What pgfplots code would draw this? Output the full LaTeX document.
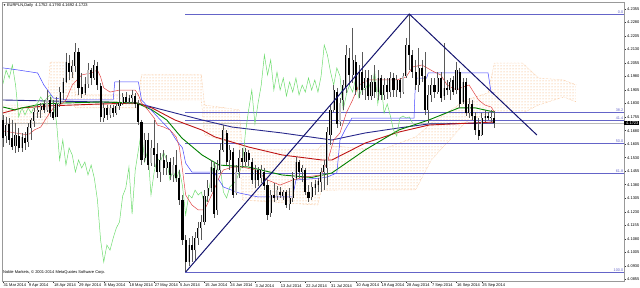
\documentclass[border=0pt]{standalone}
\usepackage{fontspec}
\setmainfont{Liberation Sans}
\usepackage{pgfplots}
\pgfplotsset{compat=1.18}
\usepackage{pgfplotstable}
\usepgfplotslibrary{fillbetween}
\usetikzlibrary{patterns}
\definecolor{fibc}{RGB}{100,100,200}
\definecolor{navyc}{RGB}{20,20,110}
\definecolor{magreen}{RGB}{0,128,0}
\definecolor{mared}{RGB}{190,20,20}
\definecolor{manavy}{RGB}{40,40,140}
\definecolor{tenkanc}{RGB}{225,70,70}
\definecolor{kijunc}{RGB}{70,70,255}
\definecolor{chikouc}{RGB}{110,220,110}
\definecolor{kumoc}{RGB}{244,164,96}
\definecolor{bullc}{RGB}{192,192,192}
\pgfplotstableread{
i O H L C
0 4.1739 4.1767 4.1589 4.1639
1 4.1650 4.1756 4.1611 4.1711
2 4.1717 4.1750 4.1600 4.1628
3 4.1639 4.1739 4.1572 4.1589
4 4.1595 4.1722 4.1556 4.1656
5 4.1650 4.1695 4.1561 4.1584
6 4.1584 4.1667 4.1561 4.1645
7 4.1639 4.1672 4.1572 4.1611
8 4.1617 4.1722 4.1589 4.1700
9 4.1695 4.1750 4.1628 4.1739
10 4.1733 4.1806 4.1700 4.1783
11 4.1783 4.1822 4.1750 4.1794
12 4.1794 4.1833 4.1750 4.1817
13 4.1828 4.1850 4.1778 4.1794
14 4.1794 4.1905 4.1783 4.1850
15 4.1850 4.1867 4.1756 4.1778
16 4.1783 4.1850 4.1739 4.1750
17 4.1756 4.1867 4.1756 4.1828
18 4.1828 4.1922 4.1811 4.1894
19 4.1889 4.1972 4.1850 4.1950
20 4.1950 4.2111 4.1944 4.2061
21 4.2055 4.2100 4.1961 4.2005
22 4.2005 4.2072 4.1972 4.2039
23 4.2039 4.2166 4.2005 4.2116
24 4.2116 4.2139 4.1878 4.1917
25 4.1922 4.2000 4.1861 4.1883
26 4.1889 4.1978 4.1878 4.1939
27 4.1939 4.2055 4.1917 4.2016
28 4.2016 4.2028 4.1933 4.1972
29 4.1972 4.2072 4.1961 4.2044
30 4.2039 4.2061 4.1905 4.1933
31 4.1928 4.1944 4.1728 4.1756
32 4.1750 4.1833 4.1728 4.1806
33 4.1806 4.1822 4.1739 4.1767
34 4.1767 4.1822 4.1750 4.1806
35 4.1806 4.1822 4.1756 4.1778
36 4.1778 4.1833 4.1767 4.1817
37 4.1817 4.1961 4.1795 4.1833
38 4.1833 4.1889 4.1822 4.1867
39 4.1867 4.1894 4.1828 4.1839
40 4.1839 4.1878 4.1828 4.1861
41 4.1861 4.1905 4.1833 4.1878
42 4.1872 4.1889 4.1806 4.1828
43 4.1828 4.1850 4.1711 4.1728
44 4.1728 4.1739 4.1489 4.1517
45 4.1528 4.1667 4.1506 4.1628
46 4.1628 4.1667 4.1462 4.1489
47 4.1500 4.1628 4.1484 4.1584
48 4.1584 4.1739 4.1478 4.1545
49 4.1550 4.1611 4.1417 4.1450
50 4.1450 4.1556 4.1395 4.1517
51 4.1517 4.1572 4.1434 4.1473
52 4.1473 4.1545 4.1434 4.1506
53 4.1506 4.1528 4.1406 4.1434
54 4.1434 4.1534 4.1395 4.1489
55 4.1489 4.1572 4.1395 4.1417
56 4.1417 4.1462 4.1267 4.1295
57 4.1295 4.1323 4.1045 4.1073
58 4.1073 4.1101 4.0895 4.0951
59 4.0951 4.1084 4.0929 4.1045
60 4.1045 4.1095 4.0951 4.1017
61 4.1017 4.1117 4.0962 4.1084
62 4.1084 4.1173 4.1045 4.1140
63 4.1140 4.1212 4.1073 4.1173
64 4.1173 4.1350 4.1156 4.1317
65 4.1317 4.1406 4.1284 4.1362
66 4.1362 4.1517 4.1339 4.1478
67 4.1473 4.1506 4.1195 4.1217
68 4.1239 4.1517 4.1212 4.1461
69 4.1461 4.1611 4.1445 4.1572
70 4.1572 4.1711 4.1561 4.1683
71 4.1667 4.1683 4.1489 4.1506
72 4.1517 4.1600 4.1461 4.1572
73 4.1561 4.1584 4.1306 4.1323
74 4.1334 4.1489 4.1323 4.1450
75 4.1450 4.1572 4.1417 4.1528
76 4.1528 4.1584 4.1473 4.1506
77 4.1506 4.1584 4.1484 4.1561
78 4.1556 4.1572 4.1484 4.1517
79 4.1506 4.1528 4.1384 4.1406
80 4.1406 4.1489 4.1362 4.1461
81 4.1461 4.1478 4.1373 4.1406
82 4.1417 4.1489 4.1389 4.1461
83 4.1450 4.1473 4.1350 4.1373
84 4.1378 4.1406 4.1184 4.1212
85 4.1223 4.1350 4.1201 4.1323
86 4.1323 4.1389 4.1284 4.1306
87 4.1317 4.1373 4.1295 4.1350
88 4.1339 4.1367 4.1306 4.1323
89 4.1317 4.1350 4.1295 4.1339
90 4.1339 4.1350 4.1251 4.1267
91 4.1273 4.1362 4.1239 4.1306
92 4.1306 4.1450 4.1284 4.1417
93 4.1417 4.1534 4.1406 4.1506
94 4.1506 4.1517 4.1417 4.1450
95 4.1450 4.1489 4.1395 4.1473
96 4.1461 4.1473 4.1323 4.1339
97 4.1339 4.1378 4.1284 4.1306
98 4.1312 4.1395 4.1295 4.1367
99 4.1362 4.1406 4.1323 4.1384
100 4.1378 4.1417 4.1339 4.1400
101 4.1395 4.1473 4.1339 4.1450
102 4.1450 4.1517 4.1350 4.1489
103 4.1473 4.1700 4.1378 4.1672
104 4.1656 4.1822 4.1600 4.1795
105 4.1795 4.1933 4.1783 4.1905
106 4.1894 4.1917 4.1695 4.1717
107 4.1728 4.1861 4.1706 4.1833
108 4.1850 4.1961 4.1795 4.1933
109 4.1917 4.2155 4.1889 4.2100
110 4.2083 4.2139 4.1933 4.1989
111 4.1989 4.2250 4.1944 4.2072
112 4.2061 4.2100 4.1878 4.1905
113 4.1905 4.2044 4.1861 4.2005
114 4.2005 4.2116 4.1878 4.1905
115 4.1917 4.2016 4.1850 4.1972
116 4.1972 4.2016 4.1850 4.1872
117 4.1872 4.1989 4.1850 4.1950
118 4.1950 4.2044 4.1861 4.1894
119 4.1894 4.2016 4.1850 4.1972
120 4.1972 4.1989 4.1850 4.1878
121 4.1878 4.1972 4.1850 4.1933
122 4.1933 4.1972 4.1856 4.1894
123 4.1894 4.2005 4.1867 4.1972
124 4.1972 4.2000 4.1867 4.1905
125 4.1905 4.1989 4.1867 4.1961
126 4.1961 4.1972 4.1861 4.1894
127 4.1894 4.2000 4.1883 4.1983
128 4.1983 4.2194 4.1972 4.2155
129 4.2155 4.2322 4.2016 4.2100
130 4.2100 4.2127 4.1972 4.2005
131 4.2005 4.2072 4.1905 4.1933
132 4.1933 4.2139 4.1894 4.2028
133 4.2028 4.2072 4.1950 4.1983
134 4.1983 4.2116 4.1767 4.1794
135 4.1794 4.1933 4.1722 4.1878
136 4.1878 4.1972 4.1839 4.1933
137 4.1933 4.1972 4.1861 4.1894
138 4.1894 4.2005 4.1883 4.1972
139 4.1972 4.2005 4.1839 4.1861
140 4.1872 4.2166 4.1850 4.1917
141 4.1917 4.1961 4.1878 4.1905
142 4.1905 4.1972 4.1850 4.1950
143 4.1961 4.1983 4.1878 4.1894
144 4.1905 4.2061 4.1883 4.2016
145 4.2005 4.2028 4.1806 4.1828
146 4.1839 4.1972 4.1828 4.1950
147 4.1950 4.1972 4.1761 4.1778
148 4.1778 4.1861 4.1750 4.1828
149 4.1828 4.1850 4.1739 4.1761
150 4.1761 4.1783 4.1656 4.1683
151 4.1683 4.1750 4.1628 4.1650
152 4.1656 4.1778 4.1650 4.1750
153 4.1750 4.1795 4.1728 4.1761
154 4.1761 4.1783 4.1739 4.1750
155 4.1750 4.1795 4.1728 4.1756
156 4.1752 4.1790 4.1692 4.1723
}\candles
\pgfplotstableread{
i A B
0 4.1822 4.1711
14 4.1822 4.1711
15 4.2061 4.1850
22 4.2061 4.1850
23 4.1878 4.1806
43 4.1878 4.1806
44 4.1989 4.1850
63 4.1989 4.1850
64 4.1822 4.1656
75 4.1795 4.1600
76 4.1573 4.1295
100 4.1573 4.1267
101 4.1600 4.1350
120 4.1573 4.1351
131 4.1645 4.1351
136 4.1722 4.1517
147 4.1850 4.1728
154 4.1889 4.1778
156 4.2055 4.1778
165 4.2055 4.1778
170 4.1972 4.1822
178 4.1961 4.1867
182 4.1933 4.1839
}\kumo
\begin{document}
\begin{tikzpicture}
\begin{axis}[
  at={(2pt,7pt)}, anchor=south west,
  scale only axis, width=622pt, height=279pt,
  xmin=-0.3, xmax=197.16, ymin=4.08456, ymax=4.23938,
  axis line style={gray!80},
  ytick pos=right, xtick pos=bottom, tick align=outside,
  major tick length=2pt, tick style={black!80, line width=0.4pt},
  ytick={4.0855,4.0930,4.1005,4.1080,4.1155,4.1230,4.1305,4.1380,4.1455,4.1530,4.1605,4.1680,4.1755,4.1830,4.1905,4.1980,4.2055,4.2130,4.2205,4.2280,4.2355},
  yticklabels={4.0855,4.0930,4.1005,4.1080,4.1155,4.1230,4.1305,4.1380,4.1455,4.1530,4.1605,4.1680,4.1755,4.1830,4.1905,4.1980,4.2055,4.2130,4.2205,4.2280,4.2355},
  xtick={0,8,...,152},
  xticklabels={31 Mar 2014,9 Apr 2014,18 Apr 2014,29 Apr 2014,8 May 2014,18 May 2014,27 May 2014,5 Jun 2014,15 Jun 2014,24 Jun 2014,3 Jul 2014,13 Jul 2014,22 Jul 2014,31 Jul 2014,10 Aug 2014,19 Aug 2014,28 Aug 2014,7 Sep 2014,16 Sep 2014,25 Sep 2014},
  tick label style={font=\fontsize{4}{4.5}\selectfont, text=black},
  xticklabel style={anchor=north west, inner xsep=0.5pt, inner ysep=1pt},
  yticklabel style={anchor=west, inner xsep=1pt},
  clip=false,
]
% Ichimoku cloud
\addplot[name path=kA, kumoc, densely dotted, line width=0.4pt] table[x=i, y=A] \kumo;
\addplot[name path=kB, kumoc, densely dotted, line width=0.4pt] table[x=i, y=B] \kumo;
\addplot[pattern=dots, pattern color=kumoc, draw=none] fill between[of=kA and kB];
% bid line
\addplot[gray!55, line width=0.4pt] coordinates {(-0.3,4.1723) (197.16,4.1723)};
% Fibonacci levels
\addplot[fibc, line width=0.5pt] coordinates {(57.8,4.2327) (197.16,4.2327)};
\addplot[fibc, line width=0.5pt] coordinates {(57.8,4.1783) (197.16,4.1783)};
\addplot[fibc, line width=0.5pt] coordinates {(57.8,4.1739) (197.16,4.1739)};
\addplot[fibc, line width=0.5pt] coordinates {(57.8,4.1611) (197.16,4.1611)};
\addplot[fibc, line width=0.5pt] coordinates {(57.8,4.1445) (197.16,4.1445)};
\addplot[fibc, line width=0.5pt] coordinates {(57.8,4.0895) (197.16,4.0895)};
% moving averages
\addplot[manavy, line width=0.9pt] coordinates {(0,4.1850) (16,4.1844) (31.4,4.1839) (42.5,4.1833) (47.3,4.1811) (54.6,4.1778) (63.2,4.1739) (72.7,4.1700) (88.6,4.1667) (104.4,4.1628) (115,4.1667) (125.7,4.1695) (135.2,4.1717) (156,4.1722)};
\addplot[mared, line width=0.9pt] coordinates {(0,4.1778) (6,4.1806) (14,4.1817) (31.4,4.1828) (42.5,4.1833) (47.3,4.1806) (54.6,4.1739) (63.2,4.1683) (67.3,4.1645) (78,4.1589) (88.6,4.1545) (101.3,4.1517) (104.4,4.1517) (115,4.1611) (125.7,4.1672) (135.2,4.1711) (156,4.1728)};
\addplot[magreen, line width=0.9pt] coordinates {(0,4.1811) (3.8,4.1795) (6,4.1806) (12.4,4.1828) (18.7,4.1833) (31.4,4.1839) (42.5,4.1833) (47.3,4.1795) (52,4.1739) (56.8,4.1639) (63.2,4.1545) (68.6,4.1489) (78,4.1478) (88.6,4.1434) (98,4.1420) (104.4,4.1445) (115,4.1573) (125.7,4.1684) (135.2,4.1739) (144.7,4.1806) (150,4.1806) (156,4.1783)};
% Ichimoku lines
\addplot[chikouc, line width=0.5pt, restrict x to domain=-0.3:200] table[x expr=\thisrow{i}-26, y=C] \candles;
\addplot[kijunc, line width=0.5pt] coordinates {(0,4.2028) (5,4.2016) (11,4.2000) (13,4.1933) (16,4.1861) (21,4.1850) (35,4.1850) (35.5,4.1950) (43,4.1950) (44,4.1850) (47,4.1795) (50,4.1739) (53,4.1684) (55,4.1628) (57,4.1584) (58,4.1500) (60,4.1450) (67,4.1450) (70,4.1367) (75,4.1334) (81,4.1312) (92,4.1312) (93,4.1406) (101,4.1417) (103,4.1423) (106,4.1445) (107,4.1628) (108.6,4.1684) (110.8,4.1750) (130.5,4.1750) (131,4.1972) (134.5,4.1972) (135,4.2000) (154,4.2000) (155,4.1889) (156,4.1889)};
\addplot[tenkanc, line width=0.5pt] coordinates {(0,4.1678) (8,4.1656) (10,4.1684) (12,4.1700) (14,4.1756) (16,4.1806) (19,4.1833) (20,4.1850) (22,4.1933) (25,4.1989) (28,4.2000) (30,4.2016) (31,4.1978) (32,4.1917) (34,4.1894) (37,4.1905) (42,4.1905) (43,4.1878) (44,4.1833) (46,4.1795) (48,4.1750) (49,4.1711) (51,4.1700) (53,4.1684) (55,4.1645) (56,4.1589) (57,4.1462) (58,4.1323) (60,4.1267) (62,4.1240) (64,4.1240) (67,4.1351) (69,4.1434) (70,4.1462) (73,4.1478) (76,4.1478) (80,4.1462) (84,4.1406) (88,4.1378) (92,4.1406) (96,4.1423) (101,4.1434) (103,4.1506) (105,4.1628) (107,4.1667) (109,4.1778) (111,4.1850) (113,4.1933) (116,4.1961) (125,4.1961) (128,4.1978) (130,4.2033) (133,4.2044) (137,4.2005) (139,4.1989) (141,4.1933) (144,4.1905) (146,4.1922) (148,4.1933) (149,4.1905) (151,4.1850) (153,4.1822) (155,4.1811) (156,4.1783)};
% candles: wicks
\addplot[draw=none, mark=none, error bars/.cd, y dir=minus, y explicit, error mark=none,
  error bar style={draw=black!65, line width=0.5pt}]
  table[x=i, y=H, y error expr={\thisrow{H}-\thisrow{L}}] \candles;
% all bodies black
\addplot[draw=none, mark=none, error bars/.cd, y dir=plus, y explicit, error mark=none,
  error bar style={draw=black, line width=2.1pt}]
  table[x=i, y expr={min(\thisrow{O},\thisrow{C})}, y error expr={abs(\thisrow{C}-\thisrow{O})}] \candles;
% bull bodies light fill
\addplot[draw=none, mark=none, error bars/.cd, y dir=plus, y explicit, error mark=none,
  error bar style={draw=bullc, line width=1.1pt}]
  table[x=i, y=O, y error expr={max(\thisrow{C}-\thisrow{O},0)}] \candles;
% trend lines
\addplot[navyc, line width=1pt] coordinates {(58,4.0895) (129,4.2327) (169.5,4.1656)};
% labels
\node[anchor=south east, text=fibc, font=\fontsize{3.8}{4}\selectfont, inner sep=0.6pt] at (axis cs:197.16,4.2327) {0.0};
\node[anchor=south east, text=fibc, font=\fontsize{3.8}{4}\selectfont, inner sep=0.6pt] at (axis cs:197.16,4.1783) {38.2};
\node[anchor=south east, text=fibc, font=\fontsize{3.8}{4}\selectfont, inner sep=0.6pt] at (axis cs:197.16,4.1739) {41.4};
\node[anchor=south east, text=fibc, font=\fontsize{3.8}{4}\selectfont, inner sep=0.6pt] at (axis cs:197.16,4.1611) {50.0};
\node[anchor=south east, text=fibc, font=\fontsize{3.8}{4}\selectfont, inner sep=0.6pt] at (axis cs:197.16,4.1445) {61.8};
\node[anchor=south east, text=fibc, font=\fontsize{3.8}{4}\selectfont, inner sep=0.6pt] at (axis cs:197.16,4.0895) {100.0};
\node[anchor=north west, font=\fontsize{4}{4.5}\selectfont, inner sep=1pt] at (rel axis cs:0,1) {\fontsize{3}{3}\selectfont ▼\ \fontsize{4}{4.5}\selectfont EURPLN,Daily\ \ 4.1752 4.1790 4.1692 4.1723};
\node[anchor=south west, font=\fontsize{4}{4.5}\selectfont, inner sep=1pt] at (rel axis cs:0,0.018) {Noble Markets, © 2001-2014 MetaQuotes Software Corp.};
\node[anchor=west, fill=black, text=white, font=\fontsize{4}{4.5}\selectfont, inner xsep=1pt, inner ysep=0.8pt] at (axis cs:197.16,4.1723) {\hspace{1pt}4.1723};
\end{axis}
\pgfresetboundingbox
\path[use as bounding box] (0,0) rectangle (640pt,288pt);
\end{tikzpicture}
\end{document}
